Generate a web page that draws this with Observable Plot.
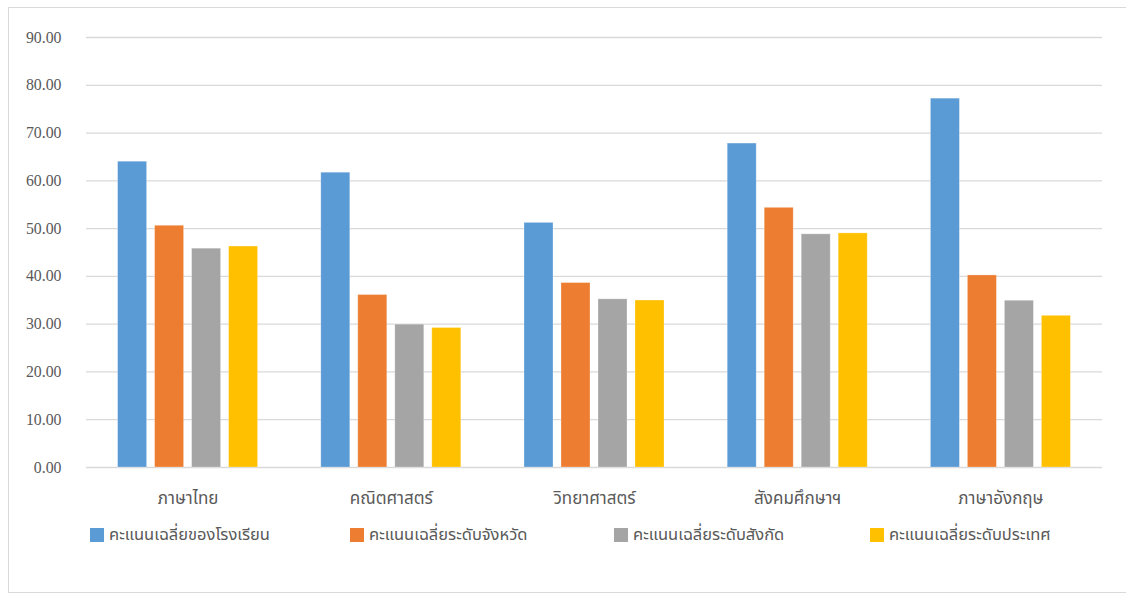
<!DOCTYPE html>
<html>
<head>
<meta charset="utf-8">
<script src="https://cdn.jsdelivr.net/npm/d3@7"></script>
<script src="https://cdn.jsdelivr.net/npm/@observablehq/plot@0.6"></script>
<style>
  html, body { margin: 0; padding: 0; background: #fff; overflow: hidden; }
  #wrap { position: relative; width: 1126px; height: 595px; overflow: hidden; }
  #frame { position: absolute; left: 8px; top: 7px; width: 1140px; height: 586px; border: 1px solid #d9d9d9; box-sizing: border-box; }
  #grid, #chart { position: absolute; left: 0; top: 0; }
  #grid text { font-family: "Liberation Serif", "Times New Roman", "DejaVu Serif", serif; font-size: 15.8px; fill: #595959; }
  #chart text { font-family: "Noto Sans Thai", Tahoma, "Leelawadee UI", sans-serif; font-size: 17px; fill: #595959; }
  #legend { position: absolute; left: 90px; top: 522px; display: flex; font-family: "Noto Sans Thai", Tahoma, "Leelawadee UI", sans-serif; font-size: 16.5px; color: #595959; }
  .item { display: flex; align-items: center; }
  .sw { width: 14px; height: 14px; margin-right: 5px; flex: none; }
</style>
</head>
<body>
<div id="wrap">
  <div id="frame"></div>
  <div id="grid"></div>
  <div id="chart"></div>
  <div id="legend"></div>
</div>
<script>
const subjects = ["ภาษาไทย", "คณิตศาสตร์", "วิทยาศาสตร์", "สังคมศึกษาฯ", "ภาษาอังกฤษ"];
const series = ["คะแนนเฉลี่ยของโรงเรียน", "คะแนนเฉลี่ยระดับจังหวัด", "คะแนนเฉลี่ยระดับสังกัด", "คะแนนเฉลี่ยระดับประเทศ"];
const schoolScores = [64.0, 61.7, 51.2, 67.8, 77.2];
const provinceScores = [50.6, 36.1, 38.6, 54.35, 40.2];
const affiliationScores = [45.8, 29.9, 35.2, 48.8, 34.9];
const nationScores = [46.25, 29.2, 34.95, 49.0, 31.75];
const colors = ["#5b9bd5", "#ed7d31", "#a5a5a5", "#ffc000"];
const yTicks = [0, 10, 20, 30, 40, 50, 60, 70, 80, 90];

const seriesValues = [schoolScores, provinceScores, affiliationScores, nationScores];
const data = [];
subjects.forEach((s, i) => {
  series.forEach((k, j) => data.push({subject: s, series: k, value: seriesValues[j][i]}));
});
const fmt = d3.format(".2f");

const common = {
  width: 1126,
  height: 515,
  marginLeft: 86,
  marginRight: 24,
  marginTop: 37,
  marginBottom: 48,
  style: {background: "transparent", overflow: "visible"},
  y: {domain: [0, 90], axis: null}
};

const grid = Plot.plot({
  ...common,
  marks: [
    Plot.ruleY(yTicks, {y: d => d, stroke: "#d9d9d9", strokeWidth: 1.3}),
    Plot.text(yTicks, {y: d => d, text: d => fmt(d), frameAnchor: "left", dx: -25, textAnchor: "end",
      fill: "#595959", fontSize: 15.8, fontFamily: "Liberation Serif"})
  ]
});
document.getElementById("grid").appendChild(grid);

const chart = Plot.plot({
  ...common,
  fx: {domain: subjects, paddingInner: 0.311, paddingOuter: 0.1555, round: false, label: null, axis: null},
  x: {domain: series, paddingInner: 0.216, paddingOuter: 0, round: false, axis: null},
  color: {domain: series, range: colors},
  marks: [
    Plot.barY(data, {fx: "subject", x: "series", y: "value", fill: "series", stroke: "#ffffff", strokeOpacity: 0.35, strokeWidth: 0.8}),
    Plot.axisFx({anchor: "bottom", tickSize: 0, tickPadding: 24, fontSize: 17, fill: "#595959", label: null})
  ]
});
document.getElementById("chart").appendChild(chart);

const legend = document.getElementById("legend");
series.forEach((s, i) => {
  const item = document.createElement("div");
  item.className = "item";
  item.style.width = [260, 264, 256, 200][i] + "px";
  const sw = document.createElement("span");
  sw.className = "sw";
  sw.style.background = colors[i];
  const t = document.createElement("span");
  t.textContent = s;
  item.appendChild(sw);
  item.appendChild(t);
  legend.appendChild(item);
});
</script>
</body>
</html>
